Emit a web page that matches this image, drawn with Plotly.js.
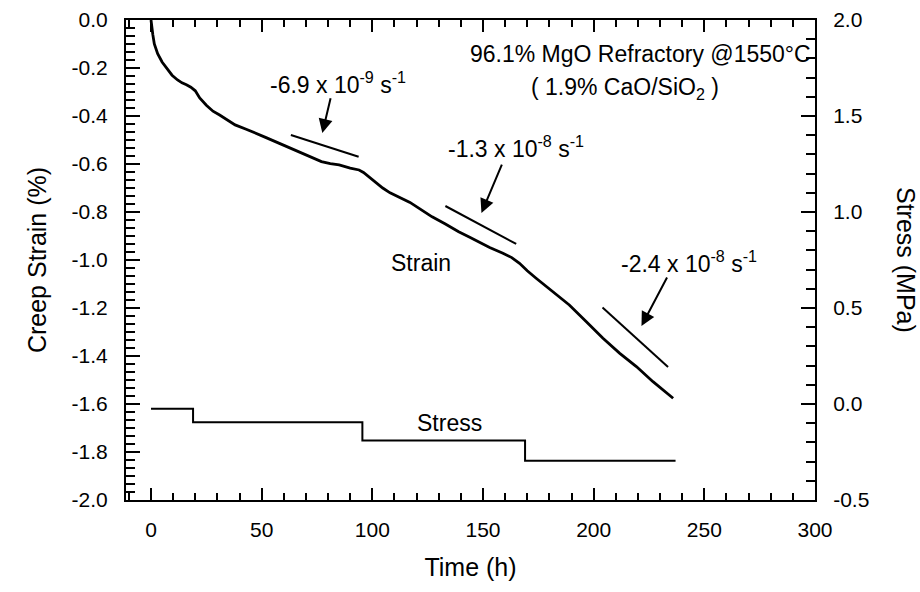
<!DOCTYPE html>
<html><head><meta charset="utf-8">
<script src="https://cdn.plot.ly/plotly-3.0.1.min.js"></script>
<style>html,body{margin:0;padding:0;background:#fff}</style>
</head><body>
<div id="chart" style="width:920px;height:592px"></div>
<script>
// ---- data ----
const timeH = [0, 0.3, 0.8, 1.5, 3, 5, 7, 9.5, 12, 14, 16, 18, 20, 22, 25, 28, 31, 35, 38, 43, 47, 52, 58, 62, 67, 72, 77, 81, 85, 90, 94, 96, 98.6, 101, 104.7, 108, 112, 117, 122, 127, 133, 139, 144, 148, 153, 159, 163, 166.5, 170, 174, 181.6, 189, 196.7, 204.2, 211.8, 219.3, 226.8, 235.9];
const creepStrain = [0, -0.03, -0.06, -0.10, -0.14, -0.175, -0.20, -0.23, -0.25, -0.262, -0.27, -0.28, -0.295, -0.325, -0.355, -0.38, -0.396, -0.42, -0.437, -0.455, -0.472, -0.49, -0.514, -0.53, -0.549, -0.57, -0.59, -0.598, -0.604, -0.617, -0.625, -0.635, -0.655, -0.675, -0.70, -0.72, -0.738, -0.76, -0.79, -0.82, -0.85, -0.882, -0.905, -0.925, -0.948, -0.972, -0.99, -1.014, -1.045, -1.076, -1.132, -1.1875, -1.257, -1.326, -1.389, -1.444, -1.507, -1.576];

const stressTime = [0, 19, 95.5, 169, 237];
const stressMPa = [-0.025, -0.095, -0.19, -0.295, -0.295];

// slope guide lines (time, strain)
const slope1Time = [63.2, 93.8],  slope1Strain = [-0.479, -0.57];
const slope2Time = [133, 165],    slope2Strain = [-0.775, -0.933];
const slope3Time = [204, 233.6],  slope3Strain = [-1.198, -1.446];

const rateLabels = ['-6.9 x 10<sup>-9</sup> s<sup>-1</sup>', '-1.3 x 10<sup>-8</sup> s<sup>-1</sup>', '-2.4 x 10<sup>-8</sup> s<sup>-1</sup>'];
const rateLabelTime = [84.5, 165, 243], rateLabelStrain = [-0.262, -0.53, -1.01];
// arrow tail / head (time, strain)
const arrowTailTime = [81.3, 158.8, 233.5], arrowTailStrain = [-0.32, -0.596, -1.067];
const arrowHeadTime = [77.4, 149.3, 221.6], arrowHeadStrain = [-0.471, -0.804, -1.275];

// tick labels
const timeTicks = [0, 50, 100, 150, 200, 250, 300];
const strainTicks = [0, -0.2, -0.4, -0.6, -0.8, -1.0, -1.2, -1.4, -1.6, -1.8, -2.0];
const strainTickText = ['0.0', '-0.2', '-0.4', '-0.6', '-0.8', '-1.0', '-1.2', '-1.4', '-1.6', '-1.8', '-2.0'];
const stressTicks = [-0.5, 0, 0.5, 1.0, 1.5, 2.0];
const stressTickText = ['-0.5', '0.0', '0.5', '1.0', '1.5', '2.0'];

const xTitle = 'Time (h)', yTitle = 'Creep Strain (%)', y2Title = 'Stress (MPa)';
const strainLabel = 'Strain', stressLabel = 'Stress';
const noteLine1 = '96.1% MgO Refractory @1550°C';
const noteLine2 = '( 1.9% CaO/SiO<sub>2</sub> )';

// ---- chart ----
const FONT = 'Liberation Sans, Arial, Helvetica, sans-serif';
const black = '#000';
const lineStyle = {color: black, width: 2};

const traces = [
  {x: timeH, y: creepStrain, mode: 'lines', line: {color: black, width: 2.8}, name: strainLabel, hoverinfo: 'skip'},
  {x: stressTime, y: stressMPa, mode: 'lines', line: {color: black, width: 2, shape: 'hv'}, yaxis: 'y2', name: stressLabel, hoverinfo: 'skip'},
  {x: slope1Time, y: slope1Strain, mode: 'lines', line: lineStyle, hoverinfo: 'skip'},
  {x: slope2Time, y: slope2Strain, mode: 'lines', line: lineStyle, hoverinfo: 'skip'},
  {x: slope3Time, y: slope3Strain, mode: 'lines', line: lineStyle, hoverinfo: 'skip'}
];

const tickFont = {family: FONT, size: 21, color: black};
const annFont = {family: FONT, size: 23, color: black};
const titleFont = {family: FONT, size: 25, color: black};

const annotations = [];
for (let i = 0; i < 3; i++) {
  annotations.push({x: rateLabelTime[i], y: rateLabelStrain[i], xref: 'x', yref: 'y', text: rateLabels[i], showarrow: false, font: annFont, xanchor: 'center', yanchor: 'middle'});
  annotations.push({x: arrowHeadTime[i], y: arrowHeadStrain[i], xref: 'x', yref: 'y', ax: arrowTailTime[i], ay: arrowTailStrain[i], axref: 'x', ayref: 'y', text: '', showarrow: true, arrowhead: 2, arrowsize: 1.4, arrowwidth: 2, arrowcolor: black, standoff: 0, startstandoff: 0});
}
annotations.push({x: 122, y: -1.0125, xref: 'x', yref: 'y', text: strainLabel, showarrow: false, font: annFont});
annotations.push({x: 135, y: -0.1, xref: 'x', yref: 'y2', text: stressLabel, showarrow: false, font: annFont});
annotations.push({x: 299, y: -0.14, xref: 'x', yref: 'y', text: noteLine1, showarrow: false, font: annFont, xanchor: 'right', yanchor: 'middle'});
annotations.push({x: 214, y: -0.285, xref: 'x', yref: 'y', text: noteLine2, showarrow: false, font: annFont, xanchor: 'center', yanchor: 'middle'});
annotations.push({x: 1, y: 0.5, xref: 'paper', yref: 'paper', xshift: 91, text: y2Title, textangle: 90, showarrow: false, font: titleFont, xanchor: 'center', yanchor: 'middle'});

const layout = {
  width: 920, height: 592,
  margin: {l: 126, r: 105, t: 20, b: 92},
  paper_bgcolor: '#fff', plot_bgcolor: '#fff',
  showlegend: false,
  font: {family: FONT, color: black},
  xaxis: {
    range: [-11.3, 300], tickmode: 'array', tickvals: timeTicks, ticktext: timeTicks.map(String),
    showgrid: false, zeroline: false,
    showline: true, linecolor: black, linewidth: 2, mirror: 'ticks',
    ticks: 'inside', ticklen: 12, tickwidth: 2, tickcolor: black,
    minor: {tickmode: 'linear', tick0: 0, dtick: 10, ticks: 'inside', ticklen: 7, tickwidth: 2, tickcolor: black, showgrid: false},
    tickfont: tickFont, ticklabelstandoff: 10,
    title: {text: xTitle, font: titleFont, standoff: 18}
  },
  yaxis: {
    range: [-2, 0], tickmode: 'array', tickvals: strainTicks, ticktext: strainTickText,
    showgrid: false, zeroline: false,
    showline: true, linecolor: black, linewidth: 2,
    ticks: 'inside', ticklen: 14, tickwidth: 2, tickcolor: black,
    minor: {tickmode: 'linear', tick0: 0, dtick: 0.2/6, ticks: 'inside', ticklen: 9, tickwidth: 2, tickcolor: black, showgrid: false},
    tickfont: tickFont, ticklabelstandoff: 12,
    title: {text: yTitle, font: titleFont, standoff: 18}
  },
  yaxis2: {
    overlaying: 'y', side: 'right', range: [-0.5, 2], tickmode: 'array', tickvals: stressTicks, ticktext: stressTickText,
    showgrid: false, zeroline: false, showline: true, linecolor: black, linewidth: 2,
    ticks: 'inside', ticklen: 14, tickwidth: 2, tickcolor: black,
    minor: {tickmode: 'linear', tick0: 0, dtick: 0.1, ticks: 'inside', ticklen: 9, tickwidth: 2, tickcolor: black, showgrid: false},
    tickfont: tickFont, ticklabelstandoff: 12
  },
  annotations: annotations
};

Plotly.newPlot('chart', traces, layout, {displayModeBar: false, staticPlot: true});
</script>
</body></html>
